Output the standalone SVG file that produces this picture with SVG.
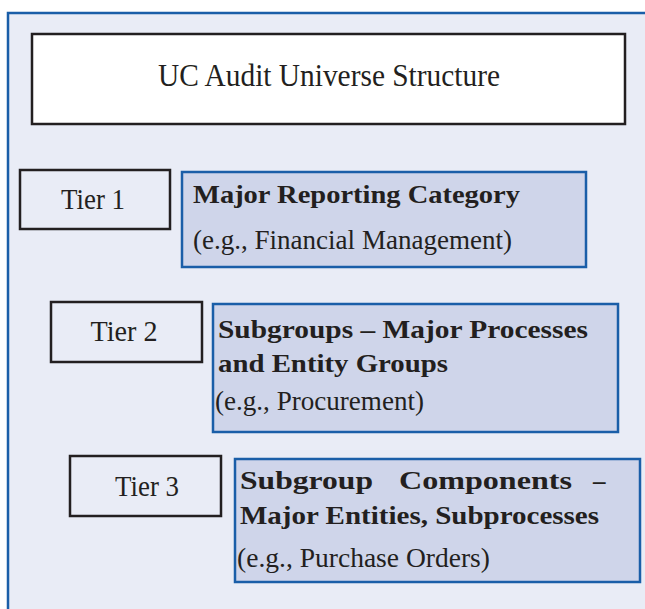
<svg xmlns="http://www.w3.org/2000/svg" width="645" height="609" viewBox="0 0 645 609">
<style>
.title{fill:#ffffff;stroke:#231f20;stroke-width:2.5}
.tier{fill:#e9ecf6;stroke:#231f20;stroke-width:2.5}
.blue{fill:#cfd5ea;stroke:#1a5ea8;stroke-width:2.5}
text{font-family:"Liberation Serif","Times New Roman",serif;fill:#231f20}
.t{font-size:31px}
.tl{font-size:29px;text-anchor:middle}
.b{font-size:25px;font-weight:bold}
.r{font-size:28px}
</style>
<rect x="0" y="0" width="645" height="609" fill="#ffffff"/>
<rect x="8" y="13" width="660" height="620" fill="#e9ecf6"/>
<path d="M8,609 V13 H645" fill="none" stroke="#1a5ea8" stroke-width="2.5"/>
<g id="connectors"/>
<g id="title">
<rect class="title" x="32" y="34" width="593" height="90"/>
<text class="t" x="158" y="86" textLength="342" lengthAdjust="spacingAndGlyphs">UC Audit Universe Structure</text>
</g>
<g id="tier1">
<rect class="tier" x="20" y="170" width="150" height="59"/>
<text class="tl" x="93" y="209" textLength="64" lengthAdjust="spacingAndGlyphs">Tier 1</text>
</g>
<g id="category">
<rect class="blue" x="182" y="172" width="404" height="95"/>
<text class="b" x="193" y="203" textLength="327" lengthAdjust="spacingAndGlyphs">Major Reporting Category</text>
<text class="r" x="193" y="249" textLength="319" lengthAdjust="spacingAndGlyphs">(e.g., Financial Management)</text>
</g>
<g id="tier2">
<rect class="tier" x="51" y="302" width="151" height="60"/>
<text class="tl" x="124" y="341" textLength="67" lengthAdjust="spacingAndGlyphs">Tier 2</text>
</g>
<g id="subgroups">
<rect class="blue" x="213" y="304" width="405" height="128"/>
<text class="b" x="218" y="338" textLength="370" lengthAdjust="spacingAndGlyphs">Subgroups – Major Processes</text>
<text class="b" x="218" y="372" textLength="230" lengthAdjust="spacingAndGlyphs">and Entity Groups</text>
<text class="r" x="215" y="410" textLength="209" lengthAdjust="spacingAndGlyphs">(e.g., Procurement)</text>
</g>
<g id="tier3">
<rect class="tier" x="70" y="456" width="151" height="60"/>
<text class="tl" x="147" y="496" textLength="64" lengthAdjust="spacingAndGlyphs">Tier 3</text>
</g>
<g id="components">
<rect class="blue" x="235" y="459" width="405" height="123"/>
<text class="b" x="240" y="489" textLength="133" lengthAdjust="spacingAndGlyphs">Subgroup</text>
<text class="b" x="399" y="489" textLength="173" lengthAdjust="spacingAndGlyphs">Components</text>
<text class="b" x="593" y="489">–</text>
<text class="b" x="240" y="524" textLength="359" lengthAdjust="spacingAndGlyphs">Major Entities, Subprocesses</text>
<text class="r" x="237" y="567" textLength="253" lengthAdjust="spacingAndGlyphs">(e.g., Purchase Orders)</text>
</g>
</svg>
